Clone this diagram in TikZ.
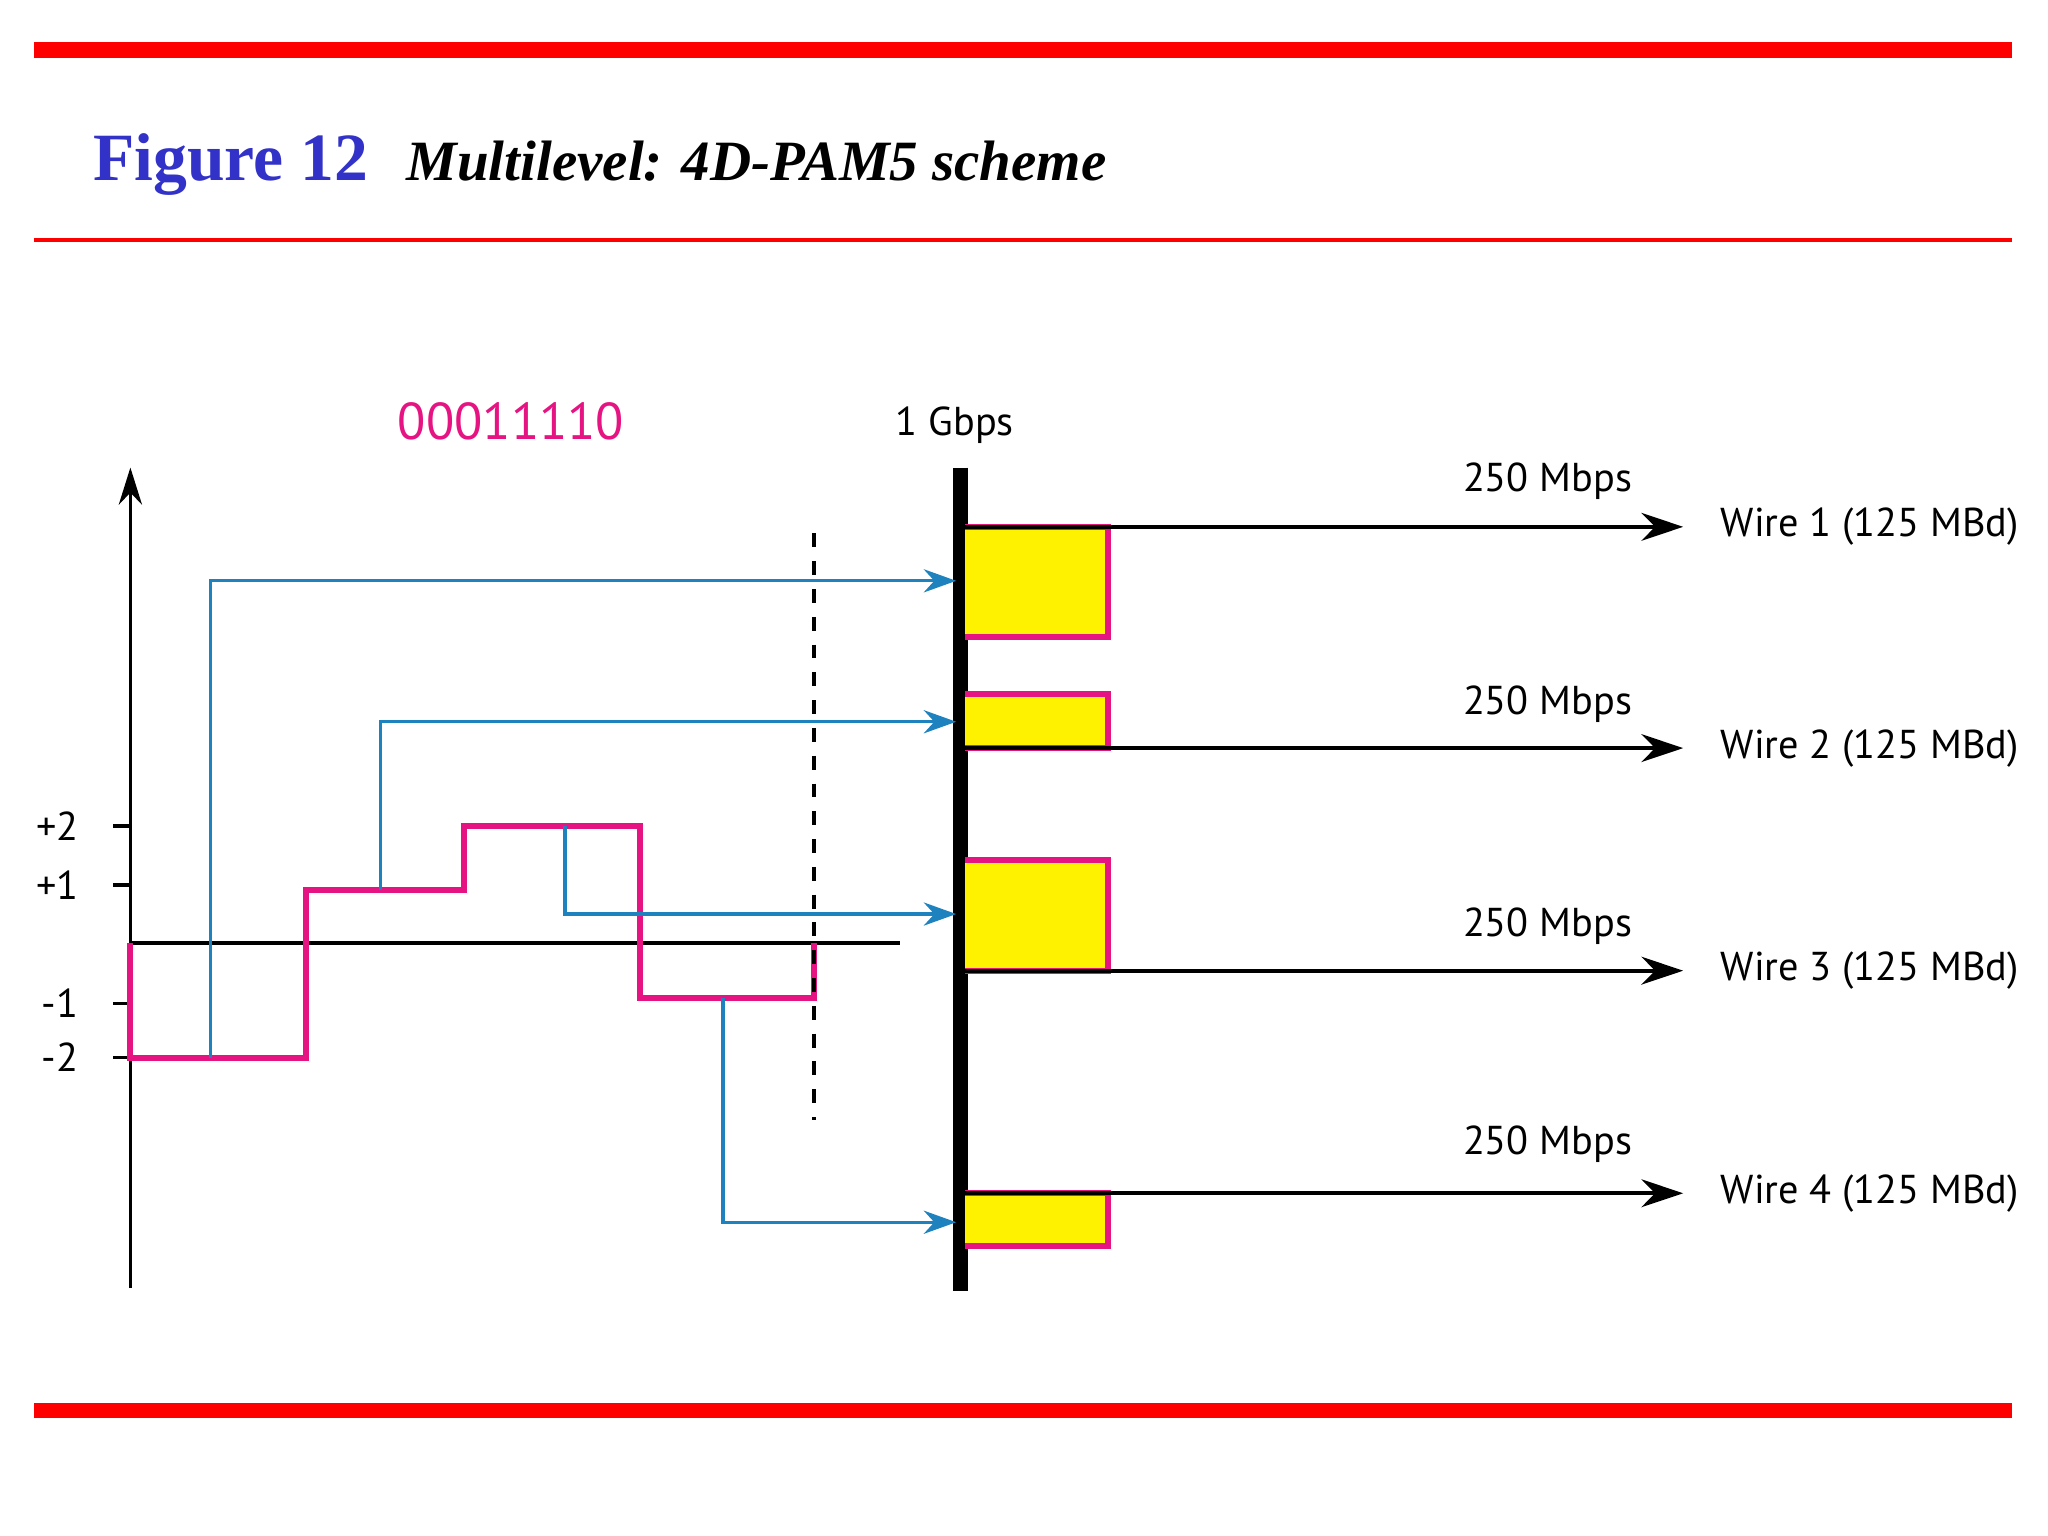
\documentclass[tikz,border=0pt]{standalone}
\usepackage{fontspec}
\setmainfont{PT Sans}
\newfontfamily\titlefont{Liberation Serif}
\usetikzlibrary{arrows.meta}
\definecolor{myred}{RGB}{255,0,0}
\definecolor{mypink}{RGB}{230,20,130}
\definecolor{myblue}{RGB}{30,130,190}
\definecolor{titleblue}{RGB}{50,50,200}
\tikzset{
  lbl/.style={font=\fontsize{8.7}{10}\selectfont},
  sig/.style={mypink, line width=1.3pt},
  blu/.style={myblue, line width=0.7pt, -{Stealth[length=7pt,width=5pt]}},
  wire/.style={black, line width=0.9pt, -{Stealth[length=9pt,width=6pt]}},
  ybox/.style={fill=yellow, draw=mypink, line width=1.3pt},
}
\begin{document}
\begin{tikzpicture}[x=0.01cm,y=-0.01cm]
\useasboundingbox (0,0) rectangle (1555,1166);
% frame lines
\draw[myred, line width=3.4pt] (26,38) -- (1528,38);
\draw[myred, line width=0.9pt] (26,182) -- (1528,182);
\draw[myred, line width=3.4pt] (26,1071) -- (1528,1071);
\node[anchor=base west, inner sep=0pt, titleblue, font=\titlefont\bfseries\fontsize{14.6}{17}\selectfont] (fig) at (70,137) {Figure 12};
\node[anchor=base west, inner sep=0pt, font=\titlefont\bfseries\itshape\fontsize{12.3}{15}\selectfont] (ttl) at (308,137) {Multilevel: 4D-PAM5 scheme};
% axes
\coordinate (ab) at (99,978);
\coordinate (at) at (99,355);
\draw[line width=0.8pt, -{Stealth[length=8pt,width=5pt]}] (ab) -- (at);
\coordinate (h0) at (99,716); \coordinate (h1) at (683,716);
\draw[line width=0.8pt] (h0) -- (h1);
\foreach \y/\t in {627/+2,672/+1,762/-1,803/-2}{
  \draw[line width=0.8pt] (86,\y) -- (99,\y);
  \node[lbl, anchor=east] at (72,\y) {\t};
}
% signal
\draw[sig] (99,716) -- (99,803) -- (232,803) -- (232,676) -- (352,676) -- (352,627) -- (486,627) -- (486,758) -- (618,758) -- (618,716);
\draw[dashed, line width=0.8pt] (618,405) -- (618,850);
\node[mypink, font=\fontsize{11.2}{13}\selectfont] (bits) at (388,320) {00011110};
% bar
\draw[line width=3.2pt] (729,355) -- (729,980);
\node[lbl] (gb) at (725,323) {1 Gbps};
% boxes
\foreach \a/\b in {400/484,527/568,653/737,906/946}{
  \draw[ybox] (733,\a) -- (841,\a) -- (841,\b) -- (733,\b);
}
% blue
\draw[blu] (160,803) -- (160,441) -- (726,441);
\draw[blu] (289,676) -- (289,548) -- (726,548);
\draw[blu] (429,627) -- (429,694) -- (726,694);
\draw[blu] (549,758) -- (549,928) -- (726,928);
% wires
\foreach \y/\l/\n in {400/365/1,568/535/2,737/703/3,906/869/4}{
  \draw[wire] (733,\y) -- (1278,\y);
  \node[lbl] at (1175,\l) {250 Mbps};
  \node[lbl, anchor=west] at (1294,\y) {Wire \n\ (125 MBd)};
}
\end{tikzpicture}
\end{document}
